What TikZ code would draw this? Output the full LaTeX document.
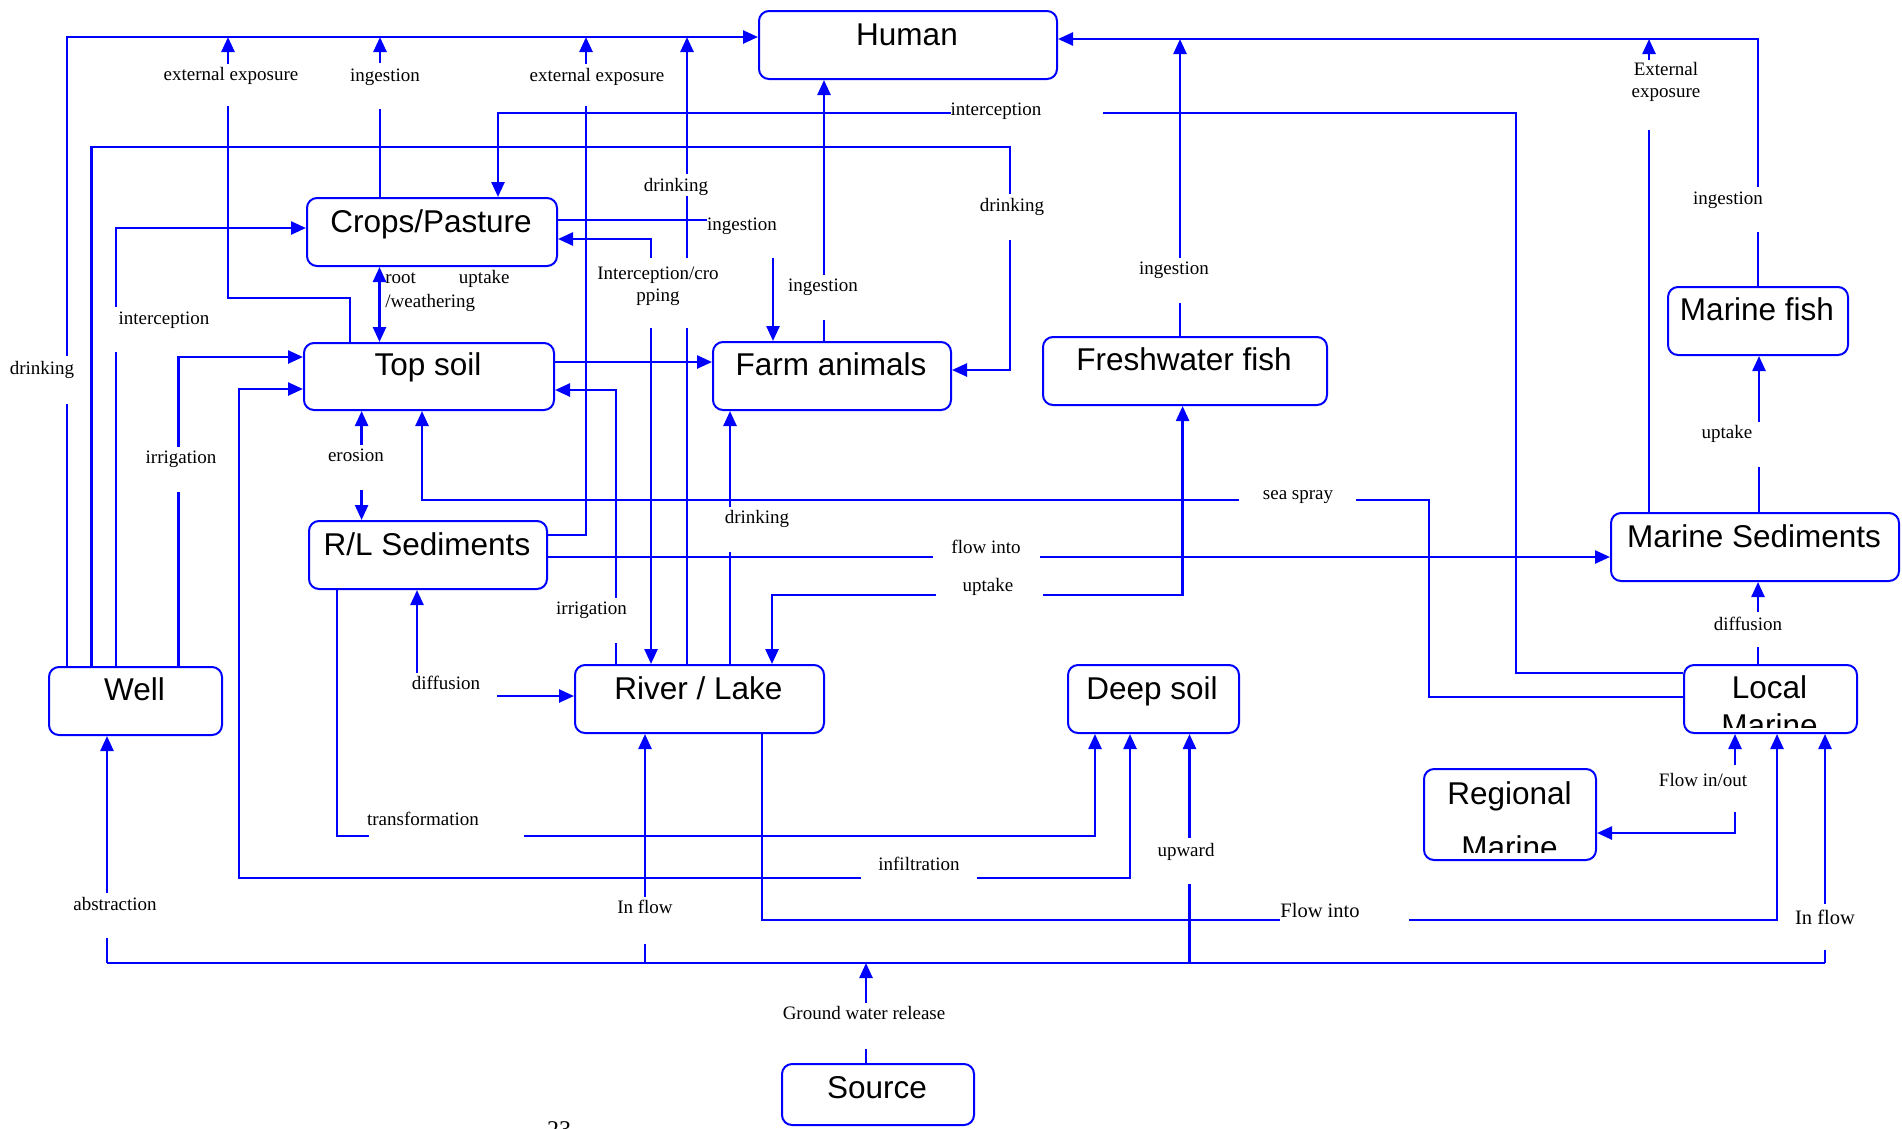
\documentclass[tikz,border=0pt]{standalone}
\usepackage{fontspec}
\setmainfont{Liberation Serif}
\newfontfamily\boxfamily{Liberation Sans}
\usetikzlibrary{arrows.meta}
\begin{document}
\begin{tikzpicture}[x=1pt,y=-1pt,
  conn/.style={draw=blue, line width=2.5pt, -{Triangle[length=15pt,width=13pt]}},
  conn2/.style={draw=blue, line width=2.5pt, {Triangle[length=15pt,width=13pt]}-{Triangle[length=15pt,width=13pt]}},
  wire/.style={draw=blue, line width=2.5pt},
  box/.style={draw=blue, line width=2pt, rounded corners=10pt, fill=white, inner sep=0pt, anchor=north west},
  boxtxt/.style={font=\boxfamily\fontsize{31.5}{36}\selectfont, inner sep=0pt, anchor=base},
  lbl/.style={font=\fontsize{19}{22}\selectfont, inner sep=0pt, text height=13pt, text depth=4pt},
  lblm/.style={font=\fontsize{19}{22}\selectfont, inner sep=0pt, align=center},
]
\useasboundingbox[fill=white] (0,0) rectangle (1902,1128);

% ---------------- boxes
\node[box, minimum width=298pt, minimum height=68pt] (human) at (758,10) {};
\node[box, minimum width=250pt, minimum height=68pt] (crops) at (306,197) {};
\node[box, minimum width=250pt, minimum height=67pt] (topsoil) at (303,342) {};
\node[box, minimum width=238pt, minimum height=68pt] (rl) at (308,520) {};
\node[box, minimum width=173pt, minimum height=68pt] (well) at (48,666) {};
\node[box, minimum width=249pt, minimum height=68pt] (river) at (574,664) {};
\node[box, minimum width=238pt, minimum height=68pt] (farm) at (712,341) {};
\node[box, minimum width=284pt, minimum height=68pt] (fresh) at (1042,336) {};
\node[box, minimum width=171pt, minimum height=68pt] (deep) at (1067,664) {};
\node[box, minimum width=180pt, minimum height=68pt] (mfish) at (1667,286) {};
\node[box, minimum width=288pt, minimum height=68pt] (msed) at (1610,512) {};
\node[box, minimum width=173pt, minimum height=68pt] (local) at (1683,664) {};
\node[box, minimum width=172pt, minimum height=91pt] (regional) at (1423,768) {};
\node[box, minimum width=192pt, minimum height=61pt] (source) at (781,1063) {};

% ---------------- bus coordinates
\coordinate (topbus) at (67,37);
\coordinate (rbus) at (1758,39);
\coordinate (gw) at (107,963);
\coordinate (ge) at (1825,963);

% ---------------- connectors
% to Human (left bus)
\draw[conn] (well.north -| 67,0) -- (topbus) -- (human.west |- topbus);
\draw[conn] (topsoil.north -| 350,0) -- (350,298) -- (228,298) -- (228,0 |- topbus);
\draw[conn] (crops.north -| 380,0) -- (380,0 |- topbus);
\draw[conn] (rl.east |- 0,535) -- (586,535) -- (586,0 |- topbus);
\draw[conn] (river.north -| 687,0) -- (687,0 |- topbus);
\draw[conn] (farm.north -| 824,0) -- (human.south -| 824,0);
% to Human (right bus)
\draw[conn] (mfish.north -| rbus) -- (rbus) -- (human.east |- rbus);
\draw[conn] (fresh.north -| 1180,0) -- (1180,0 |- rbus);
\draw[conn] (msed.north -| 1649,0) -- (1649,0 |- rbus);
% from Well
\draw[conn] (well.north -| 91.5,0) -- (91.5,147) -- (1010,147) -- (1010,370) -- (farm.east |- 0,370);
\draw[conn] (well.north -| 116,0) -- (116,228) -- (crops.west |- 0,228);
\draw[conn] (well.north -| 178.6,0) -- (178.6,357) -- (topsoil.west |- 0,357);
% from Local Marine
\draw[conn] (local.west |- 0,673) -- (1516,673) -- (1516,113) -- (498,113) -- (crops.north -| 498,0);
\draw[conn] (local.west |- 0,697) -- (1429,697) -- (1429,500) -- (422,500) -- (topsoil.south -| 422,0);
% middle
\draw[conn] (rl.east |- 0,557) -- (msed.west |- 0,557);
\draw[conn2] (river.north -| 772,0) -- (772,595) -- (1182.6,595) -- (fresh.south -| 1182.6,0);
\draw[conn] (river.north -| 730,0) -- (farm.south -| 730,0);
\draw[conn2] (river.north -| 651,0) -- (651,239) -- (crops.east |- 0,239);
\draw[conn] (river.north -| 616,0) -- (616,390) -- (topsoil.east |- 0,390);
\draw[conn] (topsoil.east |- 0,362) -- (farm.west |- 0,362);
\draw[conn] (crops.east |- 0,220) -- (773,220) -- (farm.north -| 773,0);
\draw[conn2] (crops.south -| 379.5,0) -- (topsoil.north -| 379.5,0);
\draw[conn2] (topsoil.south -| 361.6,0) -- (rl.north -| 361.6,0);
\draw[conn2] (rl.south -| 417,0) -- (417,696) -- (river.west |- 0,696);
\draw[conn] (rl.south -| 337,0) -- (337,836) -- (1095,836) -- (deep.south -| 1095,0);
\draw[conn2] (topsoil.west |- 0,389) -- (239,389) -- (239,878) -- (1130,878) -- (deep.south -| 1130,0);
% ground water bus
\draw[wire] (gw) -- (ge);
\draw[conn] (source.north -| 866,0) -- (866,0 |- gw);
\draw[conn] (gw) -- (well.south -| gw);
\draw[conn] (645,0 |- gw) -- (river.south -| 645,0);
\draw[conn] (1189.5,0 |- gw) -- (deep.south -| 1189.5,0);
\draw[conn] (ge) -- (local.south -| ge);
% marine
\draw[conn] (river.south -| 762,0) -- (762,920) -- (1777,920) -- (local.south -| 1777,0);
\draw[conn2] (local.south -| 1735,0) -- (1735,833) -- (regional.east |- 0,833);
\draw[conn] (local.north -| 1758,0) -- (msed.south -| 1758,0);
\draw[conn] (msed.north -| 1759,0) -- (mfish.south -| 1759,0);

% ---------------- gaps under labels
\fill[white] (58,356) rectangle (76,404);
\fill[white] (219,64) rectangle (237,106);
\fill[white] (370,63) rectangle (390,109);
\fill[white] (576,64) rectangle (596,106);
\fill[white] (951,103) rectangle (1103,123);
\fill[white] (1000,194) rectangle (1020,240);
\fill[white] (677,174) rectangle (697,196);
\fill[white] (707,208) rectangle (783,258);
\fill[white] (596,258) rectangle (720,328);
\fill[white] (814,275) rectangle (834,320);
\fill[white] (1170,258) rectangle (1190,303);
\fill[white] (1748,187) rectangle (1768,232);
\fill[white] (1639,60) rectangle (1659,130);
\fill[white] (351,445) rectangle (372,490);
\fill[white] (168,447) rectangle (189,492);
\fill[white] (106,307) rectangle (126,352);
\fill[white] (1239,490) rectangle (1356,510);
\fill[white] (720,507) rectangle (740,552);
\fill[white] (933,547) rectangle (1040,567);
\fill[white] (936,585) rectangle (1043,605);
\fill[white] (606,598) rectangle (626,643);
\fill[white] (405,673) rectangle (497,706);
\fill[white] (369,826) rectangle (524,846);
\fill[white] (861,868) rectangle (977,888);
\fill[white] (1179,838) rectangle (1200,884);
\fill[white] (1280,910) rectangle (1409,930);
\fill[white] (635,897) rectangle (655,944);
\fill[white] (1815,904) rectangle (1835,950);
\fill[white] (97,893) rectangle (117,938);
\fill[white] (856,1003) rectangle (876,1049);
\fill[white] (1725,765) rectangle (1745,812);
\fill[white] (1748,612) rectangle (1768,647);
\fill[white] (1749,422) rectangle (1769,467);

% ---------------- labels
\node[lbl] (l1) at (42,370) {drinking};
\node[lbl] (l2) at (231,76) {external exposure};
\node[lbl] (l3) at (385,77) {ingestion};
\node[lbl] (l4) at (597,77) {external exposure};
\node[lbl] (l5) at (996,111) {interception};
\node[lbl] (l6) at (1012,207) {drinking};
\node[lbl] (l7) at (676,187) {drinking};
\node[lbl] (l8) at (742,226) {ingestion};
\node[lblm] (l9) at (658,286) {Interception/cro\\pping};
\node[lbl] (l10) at (823,287) {ingestion};
\node[lbl] (l11) at (1174,270) {ingestion};
\node[lbl] (l12) at (1728,200) {ingestion};
\node[lblm] (l13) at (1666,82) {External\\exposure};
\node[lblm, align=left, font=\fontsize{19}{24}\selectfont] (l14) at (447.5,291) {root\hspace{43pt}uptake\\/weathering};
\node[lbl] (l15) at (356,457) {erosion};
\node[lbl] (l16) at (181,459) {irrigation};
\node[lbl] (l17) at (164,320) {interception};
\node[lbl] (l18) at (1298,495) {sea spray};
\node[lbl] (l19) at (757,519) {drinking};
\node[lbl] (l20) at (986,549) {flow into};
\node[lbl] (l21) at (988,587) {uptake};
\node[lbl] (l22) at (591.5,610) {irrigation};
\node[lbl] (l23) at (446,685) {diffusion};
\node[lbl] (l24) at (423,821) {transformation};
\node[lbl] (l25) at (919,866) {infiltration};
\node[lbl] (l26) at (1186,852) {upward};
\node[lbl, font=\fontsize{20.5}{24}\selectfont] (l27) at (1320,913) {Flow into};
\node[lbl] (l28) at (645,909) {In flow};
\node[lbl, font=\fontsize{20.5}{24}\selectfont] (l29) at (1825,920) {In flow};
\node[lbl] (l30) at (115,906) {abstraction};
\node[lbl] (l31) at (864,1015) {Ground water release};
\node[lbl] (l32) at (1703,782) {Flow in/out};
\node[lbl] (l33) at (1748,626) {diffusion};
\node[lbl] (l34) at (1727,434) {uptake};

% ---------------- box texts
\node[boxtxt] (human-t) at (907,45) {Human};
\node[boxtxt] (crops-t) at (431,232) {Crops/Pasture};
\node[boxtxt] (topsoil-t) at (428,375) {Top soil};
\node[boxtxt] (rl-t) at (427,555) {R/L Sediments};
\node[boxtxt] (well-t) at (134.5,700) {Well};
\node[boxtxt] (river-t) at (698.5,699) {River / Lake};
\node[boxtxt] (farm-t) at (831,375) {Farm animals};
\node[boxtxt] (fresh-t) at (1184,370) {Freshwater fish};
\node[boxtxt] (deep-t) at (1152,699) {Deep soil};
\node[boxtxt] (mfish-t) at (1757,320) {Marine fish};
\node[boxtxt] (msed-t) at (1754,547) {Marine Sediments};
\node[boxtxt] (source-t) at (877,1098) {Source};
\begin{scope}
  \clip (1684,665) rectangle (1855,727);
  \node[boxtxt] (local-t1) at (1769.5,698) {Local};
  \node[boxtxt] (local-t2) at (1769.5,736) {Marine};
\end{scope}
\begin{scope}
  \clip (1424,769) rectangle (1594,852);
  \node[boxtxt] (regional-t1) at (1509.5,804) {Regional};
  \node[boxtxt] (regional-t2) at (1509.5,858) {Marine};
\end{scope}
\node[font=\fontsize{24}{28}\selectfont, inner sep=0pt, anchor=north] (pg) at (559,1121) {23};
\end{tikzpicture}
\end{document}
